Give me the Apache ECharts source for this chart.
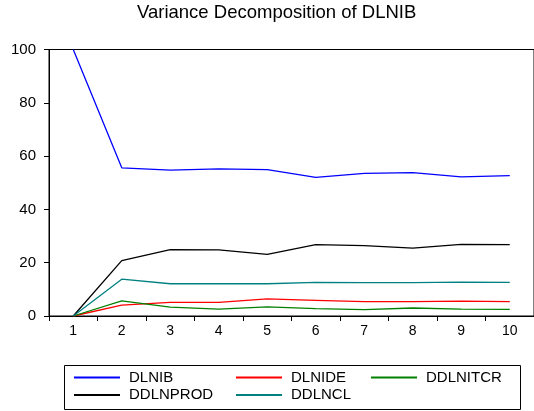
<!DOCTYPE html>
<html><head><meta charset="utf-8">
<script src="https://cdn.jsdelivr.net/npm/echarts@6/dist/echarts.min.js"></script>
<style>html,body{margin:0;padding:0;background:#fff}#c{width:534px;height:411px}</style>
</head><body><div id="c"></div>
<script>
const categories = ['1','2','3','4','5','6','7','8','9','10'];
const DLNIB    = [100, 55.6, 54.7, 55.2, 54.9, 52.0, 53.5, 53.8, 52.2, 52.7];
const DLNIDE   = [0, 4.1, 5.1, 5.1, 6.4, 5.9, 5.4, 5.4, 5.6, 5.4];
const DDLNITCR = [0, 5.7, 3.3, 2.6, 3.4, 2.8, 2.4, 3.0, 2.6, 2.5];
const DDLNPROD = [0, 20.8, 24.9, 24.8, 23.1, 26.8, 26.4, 25.5, 26.9, 26.8];
const DDLNCL   = [0, 13.8, 12.1, 12.1, 12.1, 12.6, 12.5, 12.5, 12.7, 12.6];
const yTicks = [0, 20, 40, 60, 80, 100];

const font = 'Liberation Sans, Arial, sans-serif';
const mk = (name, data, color) => ({
  name, type: 'line', data, symbol: 'none', animation: false,
  lineStyle: { color, width: 1.3 }, itemStyle: { color }
});
const leg = (name, left, top) => ({
  left, top, padding: 0, itemWidth: 46, itemHeight: 2, itemGap: 0,
  icon: 'rect', data: [name], selectedMode: false,
  textStyle: { fontFamily: font, fontSize: 15, color: '#000', padding: [0, 0, 0, 4] }
});
const chart = echarts.init(document.getElementById('c'));
chart.setOption({
  animation: false,
  title: { text: 'Variance Decomposition of DLNIB', left: 134, top: 0, padding: [3, 3, 3, 3],
    textStyle: { fontFamily: font, fontSize: 18.5, fontWeight: 'normal', color: '#000' } },
  grid: { left: 49, right: -3, top: 49.5, bottom: 95, show: true, borderColor: '#000', borderWidth: 1 },
  xAxis: {
    type: 'category', data: categories, boundaryGap: true,
    axisLine: { lineStyle: { color: '#000' } },
    axisTick: { show: true, length: 5, lineStyle: { color: '#000' } },
    axisLabel: { fontFamily: font, fontSize: 14, color: '#000', margin: 8 },
    splitLine: { show: false }
  },
  yAxis: {
    type: 'value', min: 0, max: 100, interval: 20,
    axisLine: { show: true, lineStyle: { color: '#000' } },
    axisTick: { show: true, length: 5, lineStyle: { color: '#000' } },
    axisLabel: { fontFamily: font, fontSize: 15, color: '#000', margin: 13,
      formatter: v => yTicks.includes(v) ? String(v) : '' },
    splitLine: { show: false }
  },
  legend: [
    leg('DLNIB', 74, 370),
    leg('DLNIDE', 236, 370),
    leg('DDLNITCR', 371, 370),
    leg('DDLNPROD', 74, 387.5),
    leg('DDLNCL', 236, 387.5)
  ],
  graphic: [{ type: 'rect', shape: { x: 64.5, y: 365.5, width: 456, height: 44 },
    style: { fill: 'none', stroke: '#000', lineWidth: 1 } }],
  series: [
    mk('DLNIB', DLNIB, '#0000ff'),
    mk('DLNIDE', DLNIDE, '#ff0000'),
    mk('DDLNITCR', DDLNITCR, '#008000'),
    mk('DDLNPROD', DDLNPROD, '#000000'),
    mk('DDLNCL', DDLNCL, '#008080')
  ]
});
</script></body></html>
